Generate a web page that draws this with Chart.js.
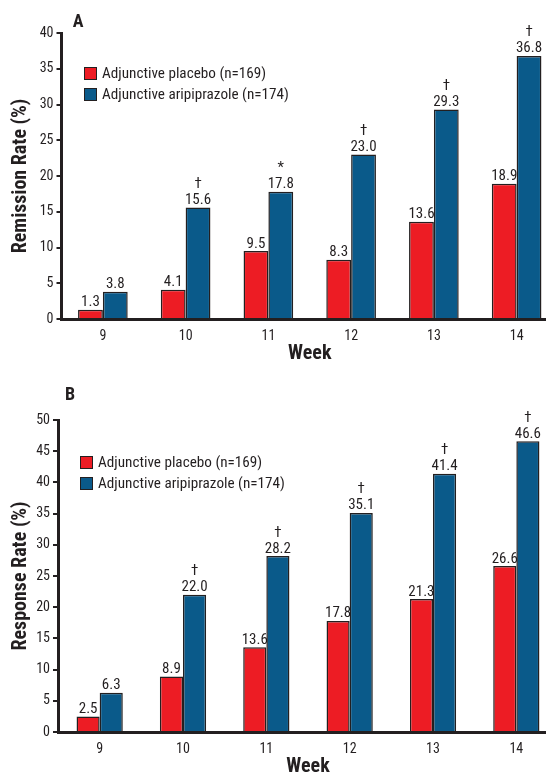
<!DOCTYPE html>
<html>
<head>
<meta charset="utf-8">
<script src="https://cdn.jsdelivr.net/npm/chart.js@4"></script>
<style>
  html, body { margin: 0; padding: 0; background: #fff; overflow: hidden; }
  body { width: 546px; height: 773px; position: relative; }
  .panel { position: absolute; left: 0; width: 558px; }
  #panelA { top: 0; height: 372px; }
  #panelB { top: 380px; height: 400px; }
</style>
</head>
<body>
<div class="panel" id="panelA"><canvas id="chartA"></canvas></div>
<div class="panel" id="panelB"><canvas id="chartB"></canvas></div>
<script>
const weeks = ["9", "10", "11", "12", "13", "14"]

const remissionPlacebo = [1.3, 4.1, 9.5, 8.3, 13.6, 18.9]
const remissionAripiprazole = [3.8, 15.6, 17.8, 23.0, 29.3, 36.8]
const remissionMarks = ["", "†", "*", "†", "†", "†"]

const responsePlacebo = [2.5, 8.9, 13.6, 17.8, 21.3, 26.6]
const responseAripiprazole = [6.3, 22.0, 28.2, 35.1, 41.4, 46.6]
const responseMarks = ["", "†", "†", "†", "†", "†"]

const legendLabels = ["Adjunctive placebo (n=169)", "Adjunctive aripiprazole (n=174)"]

const FONT = "'Roboto Condensed', 'DejaVu Sans Condensed', sans-serif"
const INK = "#231f20"
const RED = "#ed1c24"
const BLUE = "#0a5a8a"

// valores acima das barras + marca de significancia nas barras de aripiprazol
const valueLabels = {
  id: "valueLabels",
  afterDatasetsDraw(chart, args, opts) {
    const ctx = chart.ctx
    ctx.save()
    ctx.fillStyle = INK
    ctx.textAlign = "center"
    ctx.textBaseline = "alphabetic"
    chart.data.datasets.forEach((ds, di) => {
      chart.getDatasetMeta(di).data.forEach((bar, i) => {
        ctx.font = "15px " + FONT
        ctx.fillText(ds.data[i].toFixed(1), bar.x, bar.y - 3.5)
        if (di === 1 && opts.marks[i]) {
          ctx.fillText(opts.marks[i], bar.x, bar.y - 19.5)
        }
      })
    })
    ctx.restore()
  }
}

// letra do painel e legenda dentro da area do grafico
const panelDecor = {
  id: "panelDecor",
  afterDraw(chart, args, opts) {
    const ctx = chart.ctx
    ctx.save()
    ctx.fillStyle = INK
    ctx.font = "bold 18px " + FONT
    ctx.textBaseline = "middle"
    ctx.textAlign = "center"
    ctx.fillText(opts.letter, opts.letterX, opts.letterY)

    ctx.textAlign = "left"
    ctx.font = "15.2px " + FONT
    chart.data.datasets.forEach((ds, di) => {
      const y = opts.legendY + di * 21
      ctx.fillStyle = ds.backgroundColor
      ctx.fillRect(opts.legendX, y, 13, 13)
      ctx.strokeStyle = INK
      ctx.lineWidth = 1
      ctx.strokeRect(opts.legendX + 0.5, y + 0.5, 12, 12)
      ctx.fillStyle = INK
      ctx.fillText(ds.label, opts.legendX + 18, y + 7)
    })
    ctx.restore()
  }
}

function montarGrafico(id, placebo, aripiprazole, marks, cfg) {
  return new Chart(document.getElementById(id), {
    type: "bar",
    data: {
      labels: weeks,
      datasets: [
        {
          label: legendLabels[0],
          data: placebo,
          backgroundColor: RED,
          borderColor: INK,
          borderWidth: 1.5,
          categoryPercentage: cfg.catPct,
          barPercentage: 1.0
        },
        {
          label: legendLabels[1],
          data: aripiprazole,
          backgroundColor: BLUE,
          borderColor: INK,
          borderWidth: 1.5,
          categoryPercentage: cfg.catPct,
          barPercentage: 1.0
        }
      ]
    },
    options: {
      responsive: true,
      maintainAspectRatio: false,
      animation: false,
      layout: { padding: { top: cfg.top, left: 0, right: 0, bottom: 0 } },
      plugins: {
        legend: { display: false },
        tooltip: { enabled: false },
        valueLabels: { marks },
        panelDecor: cfg.decor
      },
      scales: {
        x: {
          afterFit(scale) { scale.height = cfg.xHeight },
          grid: { display: false },
          border: { display: true, color: INK, width: 3 },
          ticks: { color: INK, font: { family: FONT, size: 14 }, padding: 1 },
          title: {
            display: true,
            text: "Week",
            color: INK,
            font: { family: FONT, size: 20, weight: "bold" },
            padding: { top: 0, bottom: cfg.weekPad }
          }
        },
        y: {
          afterFit(scale) { scale.width = cfg.yWidth },
          min: 0,
          max: cfg.max,
          ticks: { stepSize: 5, color: INK, font: { family: FONT, size: 14 }, padding: 3 },
          grid: {
            display: true,
            drawOnChartArea: false,
            drawTicks: true,
            tickLength: 5,
            lineWidth: 2,
            color: INK
          },
          border: { display: true, color: INK, width: 3 },
          title: {
            display: true,
            text: cfg.yTitle,
            color: INK,
            font: { family: FONT, size: 20, weight: "bold" },
            padding: { top: 9, bottom: 0 }
          }
        }
      }
    },
    plugins: [valueLabels, panelDecor]
  })
}

montarGrafico("chartA", remissionPlacebo, remissionAripiprazole, remissionMarks, {
  catPct: 0.6,
  top: 33,
  xHeight: 53,
  weekPad: 6,
  yWidth: 61.5,
  max: 40,
  yTitle: "Remission Rate (%)",
  decor: { letter: "A", letterX: 78, letterY: 22, legendX: 84, legendY: 67 }
})

montarGrafico("chartB", responsePlacebo, responseAripiprazole, responseMarks, {
  catPct: 0.555,
  top: 40,
  xHeight: 48,
  weekPad: 1,
  yWidth: 58,
  max: 50,
  yTitle: "Response Rate (%)",
  decor: { letter: "B", letterX: 70, letterY: 15, legendX: 80, legendY: 76 }
})
</script>
</body>
</html>
